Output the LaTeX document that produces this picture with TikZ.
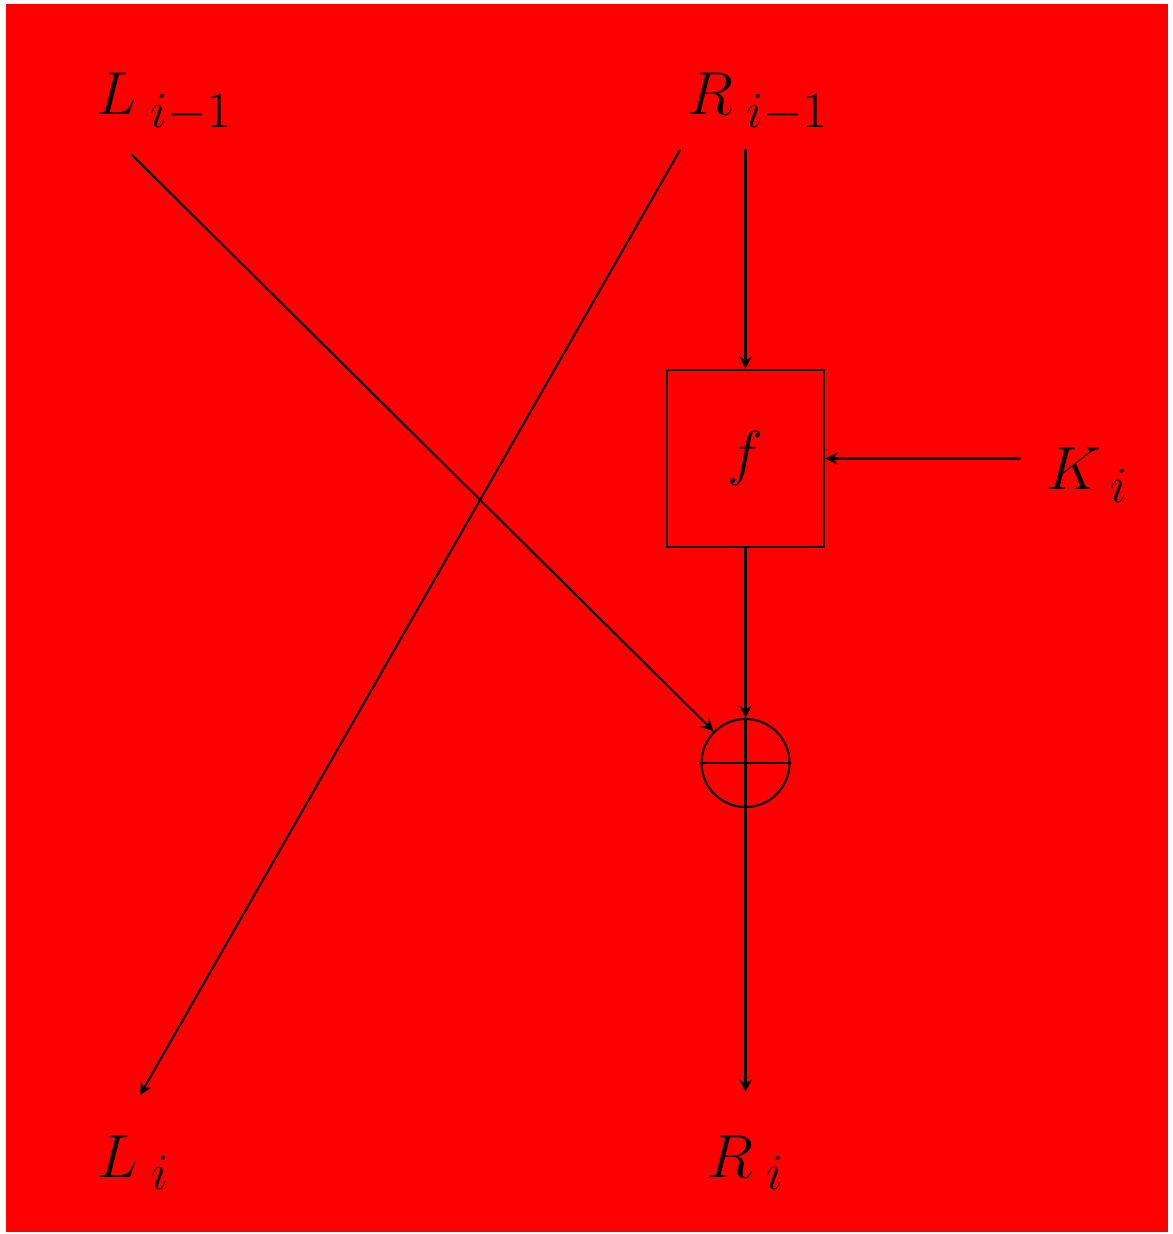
\documentclass[tikz,border=0pt]{standalone}
\begin{document}
\begin{tikzpicture}[x=0.01cm, y=-0.01cm, font=\fontsize{19}{22}\selectfont, line join=round, line cap=round, >=stealth, line width=0.6pt]
	\fill[white] (0,0) rectangle (1172,1234);
	\fill[red] (6,4) rectangle (1168,1232);
	% labels
	\node[anchor=base west, inner sep=0pt] (Lp) at (95,115) {$L_{\;i-1}$};
	\node[anchor=base west, inner sep=0pt] (Rp) at (686,115) {$R_{\;i-1}$};
	\node[anchor=base west, inner sep=0pt] (K) at (1045,490) {$K_{\;i}$};
	\node[anchor=base west, inner sep=0pt] (Ln) at (96,1177) {$L_{\;i}$};
	\node[anchor=base west, inner sep=0pt] (Rn) at (706,1177) {$R_{\;i}$};
	% round function and xor
	\node[draw, minimum width=1.57cm, minimum height=1.77cm, inner sep=0pt] (f) at (745.5,458.5) {$f$};
	\node[draw, circle, minimum size=0.88cm, inner sep=0pt] (xor) at (745.5,763) {};
	\draw (xor.north)--(xor.south) (xor.west)--(xor.east);
	\path (132,155) coordinate (Ls)
		(680,150) coordinate (Rs)
		(745.5,150) coordinate (Rd)
		(1020,458.5) coordinate (Ks)
		(140,1095) coordinate (Le)
		(745.5,1092) coordinate (Re);
	% wires
	\draw[->] (Ls)--(xor);
	\draw[->] (Rs)--(Le);
	\draw[->] (Rd)--(f.north);
	\draw[->] (Ks)--(f.east);
	\draw[->] (f.south)--(xor.north);
	\draw[->] (xor.south)--(Re);
\end{tikzpicture}
\end{document}
